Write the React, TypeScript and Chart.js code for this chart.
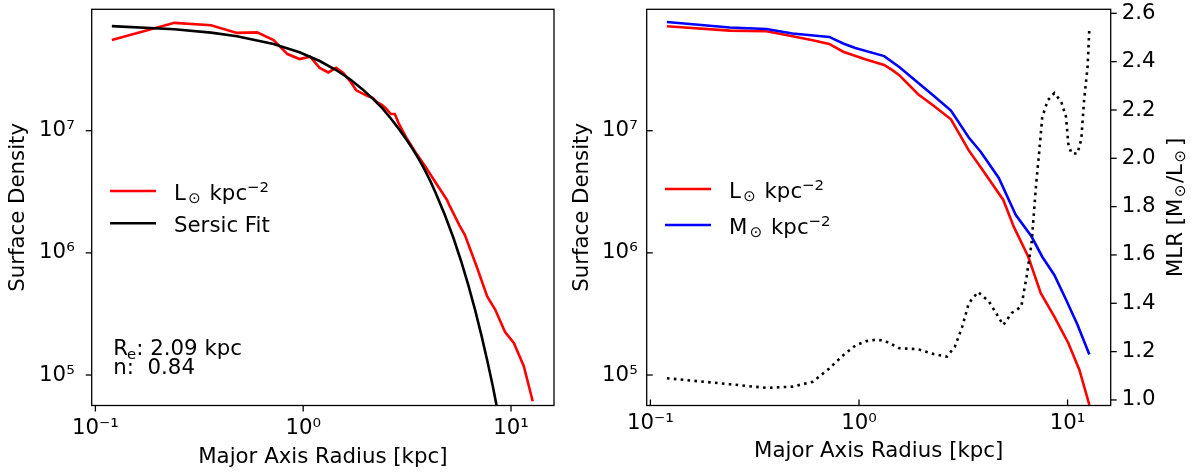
import React, { useEffect, useRef } from 'react';
import { Chart, registerables } from 'chart.js';

Chart.register(...registerables);

// ---------------- data ----------------
// left panel: photometric profile (L_sun kpc^-2)
const PHOT_RADIUS = [0.12, 0.24, 0.36, 0.48, 0.60, 0.72, 0.84, 0.96, 1.08, 1.20, 1.32, 1.44, 1.56, 1.68, 1.80, 2.04, 2.16, 2.28, 2.40, 2.52, 2.64, 2.76, 2.88, 3.12, 3.48, 3.84, 4.32, 4.92, 5.04, 5.64, 6.00, 6.84, 7.68, 8.40, 9.36, 10.32, 11.52, 12.72];
const PHOT_SB = [5.54e7, 7.64e7, 7.31e7, 6.32e7, 6.38e7, 5.52e7, 4.24e7, 3.86e7, 4.03e7, 3.27e7, 3.0e7, 3.27e7, 2.97e7, 2.55e7, 2.14e7, 1.92e7, 1.86e7, 1.70e7, 1.62e7, 1.50e7, 1.37e7, 1.37e7, 1.15e7, 8.9e6, 6.6e6, 5.2e6, 3.8e6, 2.71e6, 2.47e6, 1.69e6, 1.40e6, 7.7e5, 4.4e5, 3.42e5, 2.25e5, 1.83e5, 1.18e5, 6.1e4];

// left panel: Sersic fit curve
const SERSIC_RADIUS = [0.12, 0.24, 0.36, 0.48, 0.72, 0.96, 1.20, 1.44, 1.68, 1.92, 2.16, 2.40, 2.64, 2.88, 3.12, 3.36, 3.60, 3.84, 4.08, 4.32, 4.80, 5.28, 5.76, 6.24, 6.72, 7.20, 7.68, 8.16, 8.64, 9.12];
const SERSIC_SB = [7.18e7, 6.77e7, 6.35e7, 5.93e7, 5.13e7, 4.39e7, 3.72e7, 3.14e7, 2.64e7, 2.20e7, 1.83e7, 1.53e7, 1.26e7, 1.04e7, 8.6e6, 7.1e6, 5.85e6, 4.8e6, 3.9e6, 3.15e6, 2.05e6, 1.33e6, 8.5e5, 5.4e5, 3.4e5, 2.12e5, 1.32e5, 8.2e4, 5.0e4, 3.0e4];
const FIT_RE = '2.09';
const FIT_N = '0.84';

// right panel: luminosity and mass surface density
const LUM_RADIUS = [0.12, 0.24, 0.36, 0.48, 0.60, 0.72, 0.84, 1.08, 1.32, 1.44, 1.56, 1.92, 2.28, 2.76, 3.36, 3.84, 4.92, 5.52, 6.48, 7.44, 8.64, 10.08, 11.40, 12.72];
const LUM_SB = [7.16e7, 6.6e7, 6.52e7, 5.93e7, 5.51e7, 5.14e7, 4.43e7, 3.83e7, 3.45e7, 3.15e7, 2.85e7, 1.99e7, 1.60e7, 1.24e7, 6.9e6, 5.0e6, 2.71e6, 1.64e6, 9.3e5, 4.68e5, 3.01e5, 1.83e5, 1.1e5, 5.7e4];
const MASS_RADIUS = [0.12, 0.24, 0.36, 0.48, 0.72, 0.84, 0.96, 1.32, 1.56, 1.92, 2.28, 2.76, 3.36, 3.84, 4.68, 5.64, 6.72, 7.56, 8.64, 9.84, 11.16, 12.72];
const MASS_SB = [7.76e7, 7.0e7, 6.8e7, 6.24e7, 5.86e7, 5.18e7, 4.76e7, 4.08e7, 3.32e7, 2.47e7, 1.93e7, 1.46e7, 8.8e6, 6.7e6, 4.1e6, 2.05e6, 1.36e6, 9.3e5, 6.6e5, 4.13e5, 2.58e5, 1.47e5];

// right panel: mass-to-light ratio (twin axis)
const MLR_RADIUS = [0.12, 0.24, 0.36, 0.48, 0.60, 0.72, 0.84, 0.96, 1.08, 1.20, 1.32, 1.56, 1.92, 2.28, 2.64, 2.88, 3.12, 3.36, 3.72, 4.20, 4.92, 5.40, 6.00, 6.36, 6.72, 7.08, 7.32, 7.56, 8.04, 8.64, 9.12, 9.36, 9.84, 10.08, 10.44, 11.16, 11.64, 12.00, 12.48, 12.72];
const MLR_VALUES = [1.09, 1.065, 1.05, 1.055, 1.075, 1.13, 1.185, 1.225, 1.243, 1.249, 1.246, 1.214, 1.21, 1.19, 1.179, 1.22, 1.30, 1.40, 1.447, 1.407, 1.31, 1.36, 1.386, 1.51, 1.648, 1.90, 2.03, 2.17, 2.24, 2.27, 2.245, 2.23, 2.17, 2.06, 2.02, 2.02, 2.08, 2.24, 2.38, 2.54];

// ticks
const X_TICK_VALUES = [0.1, 1, 10];
const X_TICK_LABELS = ['10⁻¹', '10⁰', '10¹'];
const Y_TICK_VALUES = [1e5, 1e6, 1e7];
const Y_TICK_LABELS = ['10⁵', '10⁶', '10⁷'];
const MLR_TICK_VALUES = [1.0, 1.2, 1.4, 1.6, 1.8, 2.0, 2.2, 2.4, 2.6];
const MLR_TICK_LABELS = ['1.0', '1.2', '1.4', '1.6', '1.8', '2.0', '2.2', '2.4', '2.6'];

const X_TITLE = 'Major Axis Radius [kpc]';
const Y_TITLE = 'Surface Density';

// axis limits
const X_MIN = 0.096;
const X_MAX = 16.1;
const Y_MIN = 5.63e4;
const Y_MAX = 9.86e7;
const MLR_MIN = 0.977;
const MLR_MAX = 2.6166;

// ---------------- style ----------------
const FONT = '"DejaVu Sans", "Liberation Sans", sans-serif';
const FS = 21.3;
const RED = '#ff0000';
const BLUE = '#0000ff';
const BLACK = '#000000';
const LW = 2.6;

type Part = { t: string; k?: number; dx?: number; dy?: number };

const LSUN_LABEL: Part[] = [{ t: 'L' }, { t: '⊙', k: 0.7, dx: 2.4, dy: 3 }, { t: ' kpc', dx: 2 }, { t: '−2', k: 0.7, dy: -7.5 }];
const MSUN_LABEL: Part[] = [{ t: 'M' }, { t: '⊙', k: 0.7, dx: 2.4, dy: 3 }, { t: ' kpc', dx: 2 }, { t: '−2', k: 0.7, dy: -7.5 }];
const SERSIC_LABEL: Part[] = [{ t: 'Sersic Fit' }];
const RE_TEXT: Part[] = [{ t: 'R' }, { t: 'e', k: 0.7, dx: -1, dy: 4 }, { t: ': ' + FIT_RE + ' kpc' }];
const N_TEXT: Part[] = [{ t: 'n:  ' + FIT_N }];
const MLR_TITLE: Part[] = [{ t: 'MLR [M' }, { t: '⊙', k: 0.7, dx: 1.5, dy: 3 }, { t: '/L', dx: 1.5 }, { t: '⊙', k: 0.7, dx: 1.5, dy: 3 }, { t: ']', dx: 4 }];

function pairs(xs: number[], ys: number[]) {
  const n = Math.min(xs.length, ys.length);
  const out: { x: number; y: number }[] = [];
  for (let i = 0; i < n; i++) out.push({ x: xs[i], y: ys[i] });
  return out;
}

function logTickValues(min: number, max: number) {
  const out: number[] = [];
  for (let e = Math.floor(Math.log10(min)); e <= Math.ceil(Math.log10(max)); e++) {
    for (let m = 1; m <= 9; m++) {
      const v = m * Math.pow(10, e);
      if (v >= min && v <= max) out.push(v);
    }
  }
  return out;
}

function matchIndex(v: number, list: number[]) {
  return list.findIndex((t) => Math.abs(t - v) <= Math.abs(t) * 1e-6);
}

function zeroPad(s: any) {
  s.paddingLeft = 0;
  s.paddingRight = 0;
  s.paddingTop = 0;
  s.paddingBottom = 0;
}

function richWidth(ctx: CanvasRenderingContext2D, parts: Part[], size: number) {
  let w = 0;
  for (const p of parts) {
    ctx.font = `${size * (p.k ?? 1)}px ${FONT}`;
    w += (p.dx ?? 0) + ctx.measureText(p.t).width;
  }
  return w;
}

function drawRich(ctx: CanvasRenderingContext2D, parts: Part[], x: number, y: number, size: number) {
  let cx = x;
  for (const p of parts) {
    ctx.font = `${size * (p.k ?? 1)}px ${FONT}`;
    cx += p.dx ?? 0;
    ctx.fillText(p.t, cx, y + (p.dy ?? 0));
    cx += ctx.measureText(p.t).width;
  }
}

type LegendRow = { dataset: number; y: number; parts: Part[] };
type TextItem = { x: number; y: number; parts: Part[]; rotate?: boolean };

function decorPlugin(cfg: { tickDir: Record<string, 'in' | 'out'>; legend: LegendRow[]; texts: TextItem[] }) {
  return {
    id: 'decor',
    afterDraw(chart: any) {
      const ctx: CanvasRenderingContext2D = chart.ctx;
      const a = chart.chartArea;
      ctx.save();
      // axes frame
      ctx.strokeStyle = BLACK;
      ctx.lineWidth = 1.3;
      ctx.strokeRect(a.left, a.top, a.right - a.left, a.bottom - a.top);
      // tick marks (major and minor)
      for (const id of Object.keys(chart.scales)) {
        const s = chart.scales[id];
        const out = (cfg.tickDir[id] ?? 'out') === 'out';
        const majors = s.type === 'logarithmic' ? (s.isHorizontal() ? X_TICK_VALUES : Y_TICK_VALUES) : null;
        for (const t of s.ticks) {
          const p = s.getPixelForValue(t.value);
          const major = majors ? matchIndex(t.value, majors) >= 0 : true;
          const len = major ? 6 : 3.5;
          ctx.lineWidth = major ? 1.3 : 1.0;
          ctx.beginPath();
          if (s.position === 'bottom') {
            ctx.moveTo(p, a.bottom);
            ctx.lineTo(p, a.bottom + (out ? len : -len));
          } else if (s.position === 'left') {
            ctx.moveTo(a.left, p);
            ctx.lineTo(a.left + (out ? -len : len), p);
          } else if (s.position === 'right') {
            ctx.moveTo(a.right, p);
            ctx.lineTo(a.right + (out ? len : -len), p);
          }
          ctx.stroke();
        }
      }
      // legend
      ctx.textAlign = 'left';
      ctx.textBaseline = 'alphabetic';
      ctx.fillStyle = BLACK;
      for (const row of cfg.legend) {
        const ds = chart.data.datasets[row.dataset];
        ctx.strokeStyle = ds.borderColor;
        ctx.lineWidth = LW;
        ctx.setLineDash([]);
        ctx.beginPath();
        ctx.moveTo(a.left + 18.3, row.y);
        ctx.lineTo(a.left + 64.3, row.y);
        ctx.stroke();
        drawRich(ctx, row.parts, a.left + 82.3, row.y + 8.5, FS);
      }
      // free texts
      for (const tx of cfg.texts) {
        if (tx.rotate) {
          ctx.save();
          ctx.translate(tx.x, tx.y);
          ctx.rotate(-Math.PI / 2);
          const w = richWidth(ctx, tx.parts, FS);
          drawRich(ctx, tx.parts, -w / 2, 6, FS);
          ctx.restore();
        } else {
          drawRich(ctx, tx.parts, tx.x, tx.y, FS);
        }
      }
      ctx.restore();
    },
  };
}

function xAxis(tickPad: number, titlePad: number, height: number) {
  return {
    type: 'logarithmic',
    position: 'bottom',
    min: X_MIN,
    max: X_MAX,
    grid: { display: false, drawTicks: false, drawOnChartArea: false },
    border: { display: false },
    ticks: {
      autoSkip: false,
      maxRotation: 0,
      minRotation: 0,
      padding: tickPad,
      color: BLACK,
      font: { family: FONT, size: FS },
      callback: (v: any) => {
        const i = matchIndex(Number(v), X_TICK_VALUES);
        return i >= 0 ? X_TICK_LABELS[i] : null;
      },
    },
    afterBuildTicks: (s: any) => {
      s.ticks = logTickValues(X_MIN, X_MAX).map((value) => ({ value }));
    },
    afterFit: (s: any) => {
      s.height = height;
      zeroPad(s);
    },
    title: { display: true, text: X_TITLE, color: BLACK, font: { family: FONT, size: FS }, padding: { top: 0, bottom: titlePad } },
  };
}

function yAxis(tickPad: number, titlePad: number, width: number) {
  return {
    type: 'logarithmic',
    position: 'left',
    min: Y_MIN,
    max: Y_MAX,
    grid: { display: false, drawTicks: false, drawOnChartArea: false },
    border: { display: false },
    ticks: {
      autoSkip: false,
      padding: tickPad,
      color: BLACK,
      font: { family: FONT, size: FS },
      callback: (v: any) => {
        const i = matchIndex(Number(v), Y_TICK_VALUES);
        return i >= 0 ? Y_TICK_LABELS[i] : null;
      },
    },
    afterBuildTicks: (s: any) => {
      s.ticks = logTickValues(Y_MIN, Y_MAX).map((value) => ({ value }));
    },
    afterFit: (s: any) => {
      s.width = width;
      zeroPad(s);
    },
    title: { display: true, text: Y_TITLE, color: BLACK, font: { family: FONT, size: FS }, padding: { top: titlePad, bottom: 0 } },
  };
}

function lineDataset(label: string, data: any[], color: string, extra: any = {}) {
  return {
    label,
    data,
    borderColor: color,
    backgroundColor: color,
    borderWidth: LW,
    pointRadius: 0,
    pointHoverRadius: 0,
    tension: 0,
    fill: false,
    clip: 0,
    ...extra,
  };
}

const LEFT_W = 560;
const RIGHT_W = 634;
const H = 473;

function leftConfig(): any {
  return {
    type: 'line',
    data: {
      datasets: [
        lineDataset('Sersic Fit', pairs(SERSIC_RADIUS, SERSIC_SB), BLACK),
        lineDataset('L⊙ kpc⁻²', pairs(PHOT_RADIUS, PHOT_SB), RED),
      ],
    },
    options: {
      responsive: false,
      animation: false,
      devicePixelRatio: 1,
      events: [],
      layout: { padding: { top: 9.3, right: LEFT_W - 554, bottom: 0, left: 0 } },
      plugins: { legend: { display: false }, tooltip: { enabled: false } },
      scales: {
        x: xAxis(9.7, 2.6, H - 405.5),
        y: yAxis(17, 6.1, 91.7),
      },
    },
    plugins: [
      decorPlugin({
        tickDir: { x: 'out', y: 'out' },
        legend: [
          { dataset: 1, y: 191, parts: LSUN_LABEL },
          { dataset: 0, y: 223.3, parts: SERSIC_LABEL },
        ],
        texts: [
          { x: 113.3, y: 355, parts: RE_TEXT },
          { x: 113.3, y: 373.5, parts: N_TEXT },
        ],
      }),
    ],
  };
}

function rightConfig(): any {
  const mlrAxis = {
    type: 'linear',
    position: 'right',
    min: MLR_MIN,
    max: MLR_MAX,
    grid: { display: false, drawTicks: false, drawOnChartArea: false },
    border: { display: false },
    ticks: {
      autoSkip: false,
      padding: 11,
      color: BLACK,
      font: { family: FONT, size: FS },
      callback: (v: any) => {
        const i = matchIndex(Number(v), MLR_TICK_VALUES);
        return i >= 0 ? MLR_TICK_LABELS[i] : null;
      },
    },
    afterBuildTicks: (s: any) => {
      s.ticks = MLR_TICK_VALUES.map((value) => ({ value }));
    },
    afterFit: (s: any) => {
      s.width = RIGHT_W - 550.7;
      zeroPad(s);
    },
  };
  return {
    type: 'line',
    data: {
      datasets: [
        lineDataset('MLR', pairs(MLR_RADIUS, MLR_VALUES), BLACK, { yAxisID: 'y2', borderDash: [2.6, 4.3] }),
        lineDataset('M⊙ kpc⁻²', pairs(MASS_RADIUS, MASS_SB), BLUE, { yAxisID: 'y' }),
        lineDataset('L⊙ kpc⁻²', pairs(LUM_RADIUS, LUM_SB), RED, { yAxisID: 'y' }),
      ],
    },
    options: {
      responsive: false,
      animation: false,
      devicePixelRatio: 1,
      events: [],
      layout: { padding: { top: 9.3, right: 0, bottom: 0, left: 0 } },
      plugins: { legend: { display: false }, tooltip: { enabled: false } },
      scales: {
        x: xAxis(5.4, 8.3, H - 405.5),
        y: yAxis(9, 10.1, 86.7),
        y2: mlrAxis,
      },
    },
    plugins: [
      decorPlugin({
        tickDir: { x: 'in', y: 'in', y2: 'out' },
        legend: [
          { dataset: 2, y: 189, parts: LSUN_LABEL },
          { dataset: 1, y: 225, parts: MSUN_LABEL },
        ],
        texts: [{ x: 615.8, y: 207.4, parts: MLR_TITLE, rotate: true }],
      }),
    ],
  };
}

export default function App() {
  const leftRef = useRef<HTMLCanvasElement>(null);
  const rightRef = useRef<HTMLCanvasElement>(null);

  useEffect(() => {
    const c1 = new Chart(leftRef.current as HTMLCanvasElement, leftConfig());
    const c2 = new Chart(rightRef.current as HTMLCanvasElement, rightConfig());
    return () => {
      c1.destroy();
      c2.destroy();
    };
  }, []);

  return (
    <div style={{ position: 'fixed', left: 0, top: 0, width: 1194, height: H, background: '#ffffff' }}>
      <canvas
        ref={leftRef}
        width={LEFT_W}
        height={H}
        style={{ position: 'absolute', left: 0, top: 0, width: LEFT_W, height: H, display: 'block' }}
      />
      <canvas
        ref={rightRef}
        width={RIGHT_W}
        height={H}
        style={{ position: 'absolute', left: LEFT_W, top: 0, width: RIGHT_W, height: H, display: 'block' }}
      />
    </div>
  );
}
